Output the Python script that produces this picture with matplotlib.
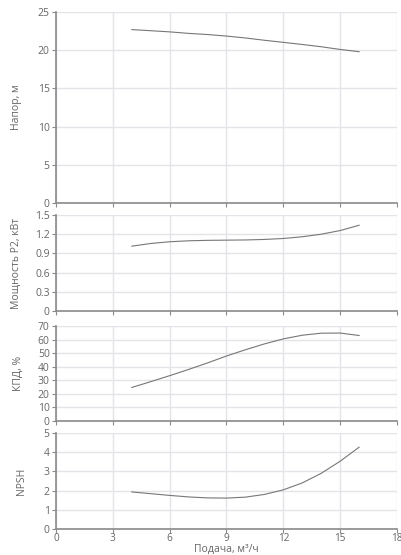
import matplotlib
matplotlib.use("Agg")
import matplotlib.pyplot as plt

plt.rcParams['font.family'] = ['Open Sans', 'DejaVu Sans']

flow = [4, 5, 6, 7, 8, 9, 10, 11, 12, 13, 14, 15, 16]
head = [22.7, 22.55, 22.4, 22.2, 22.05, 21.85, 21.6, 21.3, 21.03, 20.75, 20.45, 20.1, 19.8]
power = [1.013, 1.055, 1.082, 1.097, 1.104, 1.107, 1.11, 1.118, 1.133, 1.16, 1.20, 1.257, 1.34]
eff = [24.7, 29.0, 33.4, 38.0, 42.8, 47.9, 52.5, 56.8, 60.5, 63.2, 64.7, 64.8, 63.0]
npsh = [1.93, 1.84, 1.75, 1.67, 1.62, 1.61, 1.66, 1.8, 2.04, 2.4, 2.9, 3.53, 4.26]

x_ticks = [0, 3, 6, 9, 12, 15, 18]
ylabels = ["Напор, м", "Мощность P2, кВт", "КПД, %", "NPSH"]
yticks = [[0, 5, 10, 15, 20, 25],
          [0, 0.3, 0.6, 0.9, 1.2, 1.5],
          [0, 10, 20, 30, 40, 50, 60, 70],
          [0, 1, 2, 3, 4, 5]]
yticklabels = [["0", "5", "10", "15", "20", "25"],
               ["0", "0.3", "0.6", "0.9", "1.2", "1.5"],
               ["0", "10", "20", "30", "40", "50", "60", "70"],
               ["0", "1", "2", "3", "4", "5"]]
series = [head, power, eff, npsh]
xlabel = "Подача, м³/ч"

W, H = 402, 555
fig = plt.figure(figsize=(W / 100, H / 100), dpi=100)
fig.patch.set_facecolor('white')

panels_px = [(12, 203), (215, 311), (326, 421), (433, 529)]
left_px, right_px = 56, 397
label_x_px = [22, 22, 24, 27]

grid_c = '#e3e3ea'
spine_c = '#8a8a8a'
text_c = '#666666'
line_c = '#777777'

for i, (top, bot) in enumerate(panels_px):
    ax = fig.add_axes([left_px / W, 1 - bot / H, (right_px - left_px) / W, (bot - top) / H])
    ax.plot(flow, series[i], color=line_c, lw=0.8)
    ax.set_xlim(0, 18)
    ax.set_ylim(yticks[i][0], yticks[i][-1])
    ax.set_xticks(x_ticks)
    ax.set_yticks(yticks[i])
    ax.set_yticklabels(yticklabels[i])
    ax.grid(True, color=grid_c, lw=1)
    ax.set_axisbelow(True)
    for s in ['top', 'right']:
        ax.spines[s].set_visible(False)
    for s in ['left', 'bottom']:
        ax.spines[s].set_color(spine_c)
        ax.spines[s].set_linewidth(1.2)
    ax.tick_params(axis='both', colors=spine_c, labelcolor=text_c, labelsize=7.5,
                   length=3, width=0.8, pad=1.5)
    ax.tick_params(axis='x', pad=0, labelsize=7.2)
    if i < 3:
        ax.tick_params(axis='x', labelbottom=False)
    ax.set_ylabel(ylabels[i], color=text_c, fontsize=7.5)
    ax.yaxis.set_label_coords((label_x_px[i] - left_px) / (right_px - left_px), 0.5)
    if i == 3:
        ax.set_xlabel(xlabel, color=text_c, fontsize=7.5)
        ax.xaxis.set_label_coords(0.5, -(544 - 529) / (bot - top))

fig.savefig('out.png', dpi=100, facecolor='white')
